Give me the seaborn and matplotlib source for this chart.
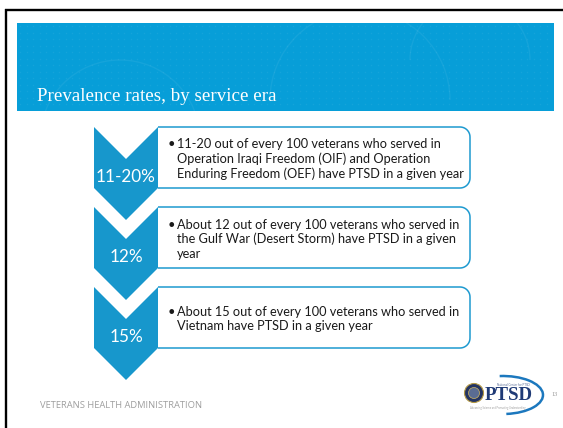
import numpy as np
import matplotlib
matplotlib.use("Agg")
import matplotlib.pyplot as plt
from matplotlib.patches import Polygon, Rectangle, Circle, Arc
import seaborn as sns

# ---------------- data ----------------
title = "Prevalence rates, by service era"
pct_labels = ["11-20%", "12%", "15%"]
descriptions = [
    ["11-20 out of every 100 veterans who served in",
     "Operation Iraqi Freedom (OIF) and Operation",
     "Enduring Freedom (OEF) have PTSD in a given year"],
    ["About 12 out of every 100 veterans who served in",
     "the Gulf War (Desert Storm) have PTSD in a given",
     "year"],
    ["About 15 out of every 100 veterans who served in",
     "Vietnam have PTSD in a given year"],
]
footer = "VETERANS HEALTH ADMINISTRATION"
logo_text = "PTSD"
page_number = "13"

# ---------------- style ----------------
sns.set_theme(style="white")
plt.rcParams['font.family'] = ['Lato', 'DejaVu Sans']

CHEV = "#1797CC"
BANNER = "#079ED8"
BOX_EDGE = "#1E9AD0"
TEXT = "#1a1a1a"

W, H = 563, 428
fig = plt.figure(figsize=(W / 100, H / 100), dpi=100)
ax = fig.add_axes([0, 0, 1, 1])
ax.set_xlim(0, W)
ax.set_ylim(H, 0)
ax.axis('off')
fig.patch.set_facecolor("white")
fig.canvas.draw()
renderer = fig.canvas.get_renderer()


def fit(x, y, s, width, **kw):
    t = ax.text(x, y, s, fontsize=10, **kw)
    w = t.get_window_extent(renderer).width
    t.set_fontsize(10 * width / w)
    return t


def right_rounded_box(xl, xr, yt, yb, r):
    th1 = np.linspace(-np.pi / 2, 0, 12)
    th2 = np.linspace(0, np.pi / 2, 12)
    xs = [xl]
    ys = [yt]
    xs += list(xr - r + r * np.cos(th1))
    ys += list(yt + r + r * np.sin(th1))
    xs += list(xr - r + r * np.cos(th2))
    ys += list(yb - r + r * np.sin(th2))
    xs.append(xl)
    ys.append(yb)
    return np.array(xs), np.array(ys)


# border lines (top and left)
ax.plot([5, W], [10, 10], color="black", lw=1.7, solid_capstyle="butt")
ax.plot([6, 6], [9, H], color="black", lw=1.7, solid_capstyle="butt")

# banner
ax.add_patch(Rectangle((17, 22.5), 537, 88.5, facecolor=BANNER, edgecolor="none"))
gx, gy = np.meshgrid(np.arange(20, 552, 6.5), np.arange(26, 110, 6.5))
ax.scatter(gx.ravel(), gy.ravel(), s=1.2, color="white", alpha=0.06, lw=0)
for cx, cy, r in [(360, 100, 90), (470, 60, 60), (120, 140, 80)]:
    ax.add_patch(Arc((cx, cy), 2 * r, 2 * r, theta1=180, theta2=360,
                     color="white", alpha=0.06, lw=1))
fit(37, 101, title, 240, color="white", family="Liberation Serif",
    va="baseline", ha="left")

# chevrons and boxes
x0, x1 = 94, 158
xc = (x0 + x1) / 2
depth, side = 32, 61
pitch, top0 = 80, 127

probe = ax.text(0, 0, descriptions[0][2], fontsize=10)
desc_fs = 10 * 288 / probe.get_window_extent(renderer).width
probe.remove()
probe = ax.text(0, 0, pct_labels[0], fontsize=10)
pct_fs = 10 * 60 / probe.get_window_extent(renderer).width
probe.remove()

for i, (lab, lines) in enumerate(zip(pct_labels, descriptions)):
    t = top0 + pitch * i
    bx, by = right_rounded_box(x1, 470, t, t + side, 10)
    ax.fill(np.r_[bx, bx[0]], np.r_[by, by[0]], color="white", zorder=2, lw=0)
    ax.plot(bx, by, color=BOX_EDGE, lw=1.1, zorder=2.5, solid_capstyle="butt")
    pts = [(x0, t), (xc, t + depth), (x1, t), (x1, t + side),
           (xc, t + side + depth), (x0, t + side)]
    ax.add_patch(Polygon(pts, closed=True, facecolor=CHEV, edgecolor="none", zorder=3))
    ax.text(xc, t + 50, lab, color="white", fontsize=pct_fs, ha="center",
            va="center", zorder=4)
    n = len(lines)
    for k, line in enumerate(lines):
        yy = t + 32 + (k - (n - 1) / 2) * 14.5
        if k == 0:
            ax.text(168, yy, "\u2022", color=TEXT, fontsize=desc_fs, ha="left",
                    va="center", zorder=4)
        ax.text(177, yy, line, color=TEXT, fontsize=desc_fs, ha="left",
                va="center", zorder=4)

# footer
fit(40, 405, footer, 163, family="Open Sans", color="#9E9E9E",
    ha="left", va="center")

# logo
ax.add_patch(Arc((503, 395), 80, 38, theta1=-100, theta2=80, color="#1C78BE", lw=1.8))
ax.add_patch(Circle((474, 393), 9.5, facecolor="#243463", edgecolor="#B59A45", lw=0.8))
ax.add_patch(Circle((474, 393), 5.5, facecolor="#5A6C93", edgecolor="#D2B860", lw=0.5))
fit(485, 396, logo_text, 48, color="#1F3A76", family="Liberation Serif",
    fontweight="bold", ha="left", va="center")
fit(497, 385, "National Center for PTSD", 32, color="#5B6E99", ha="left", va="center")
fit(470, 408, "Advancing Science and Promoting Understanding", 58, color="#A0A0A0",
    ha="left", va="center")
ax.text(555, 394, page_number, fontsize=4.6, color="#9A9A9A", ha="center", va="center",
        family="Liberation Serif")

fig.savefig("out.png", dpi=100, facecolor="white")
